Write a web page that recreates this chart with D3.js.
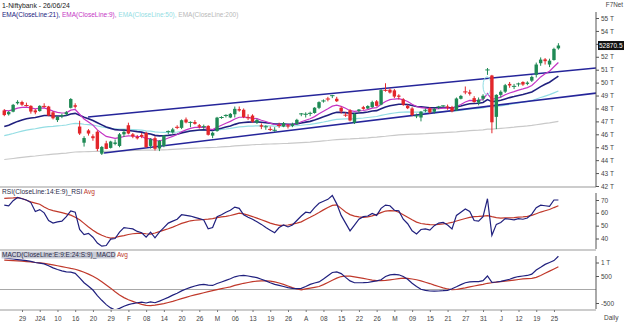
<!DOCTYPE html>
<html><head><meta charset="utf-8">
<script src="https://cdn.jsdelivr.net/npm/d3@7"></script>
<style>
body{margin:0;background:#fff}
svg{display:block}
text{font-family:"Liberation Sans",Arial,sans-serif}
</style>
</head><body>
<svg id="chart" width="624" height="323"></svg>
<script>
// Daily Nifty Bank candles, 22 Dec 2023 .. 26 Jun 2024 (values in thousands)
const open  = [47.85,47.55,47.75,48.40,48.50,48.30,48.20,47.85,47.80,48.20,48.15,47.70,47.10,47.40,47.55,48.05,48.25,46.60,45.35,46.30,45.85,46.20,44.50,45.30,44.95,45.25,45.10,46.00,46.70,46.00,45.80,45.95,46.10,45.10,45.70,44.90,45.10,46.15,46.15,46.55,46.50,47.15,46.85,46.95,46.70,46.55,46.65,45.90,46.25,47.25,47.40,47.30,47.55,47.95,47.90,47.35,47.45,46.90,46.70,46.55,46.40,46.30,46.70,46.60,46.70,46.65,46.80,47.50,47.55,47.55,47.65,48.05,48.55,48.75,48.95,48.75,48.05,47.55,47.85,46.90,47.80,48.10,48.00,48.10,48.55,48.30,49.45,49.45,49.40,49.00,48.70,48.20,48.00,47.40,47.30,47.85,48.00,47.75,48.05,48.15,48.15,48.10,47.85,48.75,49.30,49.25,48.80,48.45,48.75,50.90,50.55,47.35,49.05,49.30,49.90,49.70,49.85,50.05,49.90,50.15,50.60,51.50,51.80,51.40,51.75,52.65];
const high  = [47.95,47.80,48.35,48.64,48.60,48.45,48.25,47.95,48.25,48.40,48.20,47.80,47.40,47.60,47.80,48.80,48.40,47.05,45.85,46.40,46.00,46.30,45.10,45.50,45.50,45.60,46.10,46.40,46.90,46.10,45.95,46.10,46.20,45.70,45.85,45.55,45.95,46.30,46.50,46.70,47.15,47.30,47.00,47.10,46.80,46.75,46.70,46.20,47.35,47.40,47.55,47.65,48.15,48.15,48.00,47.55,47.55,47.20,46.85,46.70,46.60,46.55,46.90,46.95,46.80,46.90,47.20,47.65,47.70,47.75,48.10,48.55,48.70,48.90,49.05,48.90,48.15,47.70,47.95,47.65,47.95,48.20,48.25,48.60,48.65,49.50,49.95,49.55,49.50,49.10,48.80,48.30,48.10,47.60,47.80,48.00,48.10,48.05,48.20,48.25,48.30,48.20,48.85,49.05,49.70,49.45,48.95,48.85,49.10,51.13,50.60,49.10,49.40,49.90,50.05,49.90,50.00,50.10,50.10,50.55,51.55,51.95,51.90,51.85,52.70,53.05];
const low   = [47.40,47.45,47.70,48.30,48.20,48.15,47.60,47.55,47.75,48.05,47.40,47.15,46.95,47.25,47.45,48.00,48.00,45.95,45.05,45.90,45.50,44.70,44.40,44.85,44.90,45.15,45.00,45.80,46.00,45.70,45.60,45.70,44.95,44.90,44.75,44.70,45.00,46.00,46.05,46.40,46.40,46.85,46.55,46.75,46.45,46.40,45.90,45.70,46.20,47.20,47.30,47.25,47.30,47.75,47.25,47.10,46.90,46.80,46.40,46.35,46.25,46.20,46.50,46.55,46.45,46.55,46.75,47.40,47.30,47.40,47.60,47.95,48.45,48.55,48.80,48.50,47.60,47.35,47.00,46.80,47.70,47.90,47.95,48.05,48.15,48.25,49.30,49.15,48.80,48.70,48.20,47.95,47.40,47.25,47.00,47.70,47.60,47.60,47.95,48.10,47.90,47.70,47.80,48.70,49.10,49.00,48.45,48.25,48.60,50.60,46.08,46.40,48.85,49.20,49.60,49.50,49.70,49.75,49.80,50.05,50.40,51.30,51.40,51.20,51.70,52.55];
const close = [47.49,47.72,48.28,48.51,48.29,48.23,47.76,47.70,48.20,48.16,47.45,47.24,47.36,47.44,47.71,48.73,48.13,46.06,45.71,46.06,45.70,44.87,45.02,44.87,45.44,45.37,46.00,46.19,46.06,45.83,45.69,45.82,45.01,45.63,44.88,45.50,45.91,46.22,46.38,46.54,47.09,46.92,46.92,46.81,46.58,46.59,45.96,46.12,47.29,47.30,47.46,47.58,47.97,47.84,47.33,47.28,46.98,47.11,46.59,46.58,46.38,46.31,46.68,46.86,46.60,46.79,47.12,47.58,47.55,47.62,48.06,48.49,48.58,48.73,48.99,48.56,47.77,47.48,47.07,47.57,47.92,47.97,48.19,48.49,48.20,49.42,49.40,49.23,48.92,48.90,48.29,48.02,47.49,47.42,47.75,47.86,47.69,47.98,48.12,48.20,48.05,47.78,48.77,48.97,49.28,49.14,48.50,48.68,48.98,50.98,46.93,49.05,49.29,49.80,49.78,49.71,49.90,49.85,50.00,50.44,51.40,51.78,51.66,51.70,52.61,52.87];
const lastClose = 52870.5;

// Moving averages of the close
const ema9   = [47.85,47.82,47.91,48.03,48.08,48.11,48.04,47.97,48.02,48.05,47.93,47.79,47.70,47.65,47.66,47.87,47.92,47.55,47.18,46.96,46.71,46.34,46.08,45.84,45.76,45.68,45.74,45.83,45.88,45.87,45.83,45.83,45.67,45.66,45.50,45.50,45.58,45.71,45.84,45.98,46.20,46.34,46.46,46.53,46.54,46.55,46.43,46.37,46.55,46.70,46.85,47.00,47.19,47.32,47.32,47.31,47.24,47.21,47.09,46.99,46.87,46.76,46.74,46.76,46.73,46.74,46.82,46.97,47.09,47.20,47.37,47.59,47.79,47.98,48.18,48.26,48.16,48.02,47.83,47.78,47.81,47.84,47.91,48.03,48.06,48.33,48.54,48.68,48.73,48.76,48.67,48.54,48.33,48.15,48.07,48.03,47.96,47.96,47.99,48.03,48.03,47.98,48.14,48.31,48.50,48.63,48.60,48.62,48.69,49.15,48.71,48.78,48.88,49.06,49.20,49.30,49.42,49.51,49.61,49.78,50.10,50.44,50.68,50.88,51.23,51.56];
const ema21  = [46.60,46.70,46.85,47.00,47.11,47.21,47.26,47.30,47.38,47.45,47.45,47.43,47.42,47.42,47.45,47.57,47.62,47.48,47.32,47.21,47.07,46.90,46.73,46.56,46.46,46.36,46.33,46.32,46.30,46.26,46.21,46.17,46.07,46.03,45.92,45.88,45.89,45.92,45.96,46.01,46.11,46.18,46.25,46.30,46.33,46.35,46.32,46.30,46.39,46.47,46.56,46.65,46.77,46.87,46.91,46.94,46.95,46.96,46.93,46.90,46.85,46.80,46.79,46.80,46.78,46.78,46.81,46.88,46.94,47.00,47.10,47.23,47.35,47.48,47.61,47.70,47.70,47.68,47.63,47.62,47.65,47.68,47.73,47.80,47.83,47.98,48.11,48.21,48.27,48.33,48.33,48.30,48.23,48.15,48.12,48.09,48.06,48.05,48.06,48.07,48.07,48.04,48.11,48.19,48.29,48.36,48.38,48.40,48.46,48.69,48.53,48.57,48.64,48.74,48.84,48.92,49.01,49.08,49.17,49.28,49.48,49.69,49.87,50.03,50.27,50.50];
const ema50  = [45.90,45.97,46.06,46.16,46.24,46.32,46.38,46.43,46.50,46.56,46.60,46.62,46.65,46.68,46.72,46.80,46.85,46.82,46.78,46.75,46.71,46.64,46.57,46.51,46.46,46.42,46.40,46.40,46.38,46.36,46.34,46.32,46.27,46.24,46.19,46.16,46.15,46.15,46.16,46.18,46.21,46.24,46.27,46.29,46.30,46.31,46.30,46.29,46.33,46.37,46.41,46.46,46.52,46.57,46.60,46.63,46.64,46.66,46.66,46.66,46.65,46.63,46.63,46.64,46.64,46.65,46.67,46.70,46.74,46.77,46.82,46.89,46.95,47.02,47.10,47.16,47.18,47.19,47.19,47.20,47.23,47.26,47.30,47.34,47.38,47.46,47.53,47.60,47.65,47.70,47.72,47.73,47.72,47.71,47.71,47.72,47.72,47.73,47.74,47.76,47.77,47.77,47.81,47.86,47.91,47.96,47.98,48.01,48.05,48.16,48.11,48.15,48.19,48.26,48.32,48.37,48.43,48.49,48.55,48.62,48.73,48.85,48.96,49.07,49.21,49.35];
const ema200 = [44.05,44.09,44.13,44.17,44.21,44.25,44.29,44.32,44.36,44.40,44.43,44.46,44.49,44.52,44.55,44.59,44.63,44.64,44.65,44.66,44.67,44.68,44.68,44.68,44.69,44.70,44.71,44.72,44.74,44.75,44.76,44.77,44.77,44.78,44.78,44.79,44.80,44.81,44.83,44.85,44.87,44.89,44.91,44.93,44.94,44.96,44.97,44.98,45.00,45.03,45.05,45.07,45.10,45.13,45.15,45.17,45.19,45.21,45.22,45.24,45.25,45.26,45.27,45.29,45.30,45.32,45.34,45.36,45.38,45.40,45.43,45.46,45.49,45.52,45.56,45.59,45.61,45.63,45.64,45.66,45.68,45.71,45.73,45.76,45.78,45.82,45.85,45.89,45.92,45.95,45.97,45.99,46.01,46.02,46.04,46.05,46.07,46.09,46.11,46.13,46.15,46.17,46.19,46.22,46.25,46.28,46.30,46.32,46.35,46.40,46.40,46.43,46.46,46.49,46.52,46.55,46.59,46.62,46.65,46.69,46.74,46.79,46.84,46.88,46.94,47.00];

// Trend channel drawn on the price panel: [candle index, price]
const channelUpper = [[18.9,47.34],[133.5,51.13]];
const channelLower = [[22.5,44.55],[133.5,49.19]];
// Circled area around the 3-4 June swing: candle index, half width in candles, price range
const ringIdx = 108.9, ringHalf = 0.9, ringLow = 49.05, ringHigh = 50.45;

// RSI(14) and its 9-period average
const rsi    = [66,65.5,69.5,72,71,70,68,61,62.5,60,54,52,53,53.5,57,61.5,60.5,47,43,44,41,36.5,34,34.5,39.5,40,45,48.5,48,47.5,45.5,44.5,41,45,40.5,45,48.5,52,53.5,55,58.5,58,57.5,56.5,55.5,54.5,47.5,48.5,57,58.5,60.5,62,64.5,63.5,58.5,56.5,55,53,51,48.5,46.5,44.5,48.5,50.5,49,50.5,54,57.5,60.5,60,64,67.5,69,70.5,73.5,67,58,52,46,50.5,55,57,57.5,59.5,58,63.5,66,65.5,62,61.5,55,51.5,46,43.5,47,47.5,46.5,50,52,52.5,50.5,47.5,58,60.5,63,61,54,53.5,57,71,42.5,51,52.5,55.5,55,54.5,55.5,55,56,59,64,66,65.5,65,70,70];
const rsiAvg = [71.3,71.5,71.6,71.8,71.2,69.8,68.5,67.6,66.7,64.5,62.8,61.7,61,60.1,59.2,58.2,56.5,54.6,51.8,49,46.5,44.2,42.5,41.2,40.3,40.8,41.6,42.3,43.1,43.7,44,44.1,43.7,43.4,44.3,45.4,46.5,47.6,48.9,50.3,51.8,52.8,53.8,54.2,54.5,54.8,55.1,55.5,56.2,56.8,57.3,57.9,58.8,59.7,59.2,58.2,57.1,55.9,54.6,53.3,52,51,50.2,50.2,50.5,51.2,52,53,54.8,56.5,58.3,60.2,62.3,64.1,65.8,66.2,63.5,60.6,58.6,57.4,56.8,56.4,56.9,57.6,58.8,60.2,61.4,61.7,61.6,60.5,58.5,56.6,54.6,52.8,51.7,51.2,50.8,50.7,51,51.4,51.9,52.5,53.6,54.6,55.6,56.4,57,57.2,57.5,57.8,57,56.3,55.9,56,56.1,56.3,56.6,56.9,57.3,58,59.3,60.6,61.6,62.6,64.1,65.5];

// MACD(9,24) and signal line
const macd    = [1170,1150,1130,1110,1090,1070,1040,1000,980,950,880,800,740,690,650,640,600,430,250,120,-20,-230,-400,-560,-680,-760,-700,-620,-560,-520,-490,-470,-500,-460,-490,-430,-360,-290,-210,-140,-50,20,80,130,170,190,160,150,220,280,340,400,470,510,520,500,470,440,380,320,250,190,150,110,70,40,30,40,110,190,240,280,390,510,630,650,590,450,320,250,250,252,260,289,320,360,480,540,560,545,480,380,230,110,10,-30,-56,-60,-56,-45,-30,30,100,180,250,285,295,290,330,500,267,278,300,340,380,440,480,500,520,570,720,820,930,1000,1070,1230];
const macdAvg = [1090,1080,1070,1060,1050,1035,1020,1000,985,965,940,910,880,850,815,780,750,700,640,570,490,400,290,170,50,-80,-200,-300,-380,-440,-500,-550,-590,-600,-580,-550,-520,-480,-440,-390,-340,-290,-240,-200,-160,-120,-80,-40,-5,30,65,100,150,190,230,260,290,310,320,320,310,280,240,190,130,70,20,-10,20,50,80,110,180,260,340,420,480,500,495,470,440,410,380,350,330,330,340,360,380,400,420,410,390,360,320,270,220,160,110,60,20,-10,0,30,60,100,130,160,190,230,250,270,290,310,330,350,370,390,400,410,450,520,600,680,760,840];

// Date axis: a label every fourth session
const dateTickIdx = [4,8,12,16,20,24,28,32,36,40,44,48,52,56,60,64,68,72,76,80,84,88,92,96,100,104,108,112,116,120,124];
const dateTickLabels = ["29","J24","10","16","20","29","F","08","14","20","26","M","06","13","19","26","A","08","15","22","26","M","09","15","21","27","31","J","12","19","25"];

// price labels (53 sits under the last-value tag)
const priceTicks = [42,43,44,45,46,47,48,49,50,51,52,53,54,55];
const priceLabelHidden = [53];
const rsiTicks = [40,50,60,70];
const macdTicks = [-500,500,1000];

const axisX = 596;
const svg = d3.select("#chart");

const x = d3.scaleLinear().domain([0, close.length - 1]).range([4.27, 558.4]);
const yP = d3.scaleLinear().domain([42, 55]).range([186, 18]);
const yR = d3.scaleLinear().domain([40, 70]).range([238.5, 200]);
const yM = d3.scaleLinear().domain([-500, 1000]).range([303, 262.5]);

const navy = "#20207e", magenta = "#c535c5", cyan = "#93dde3", grey = "#c9c9c9";
const up = "#1f8a55", down = "#e3262b", avgRed = "#c0392b";
const fontFam = "Liberation Sans, Arial, sans-serif";

// clip paths for the three panels
const defs = svg.append("defs");
[["clipP",0,8,axisX,179],["clipR",0,188,axisX,61],["clipM",0,251,axisX,58]].forEach(([id,cx,cy,cw,ch]) => {
  defs.append("clipPath").attr("id", id).append("rect").attr("x",cx).attr("y",cy).attr("width",cw).attr("height",ch);
});

// panel separators
[187, 250, 310].forEach(yy => svg.append("line").attr("x1",0).attr("x2",axisX).attr("y1",yy).attr("y2",yy)
  .attr("stroke","#9a9a9a").attr("stroke-width",1.2));
svg.append("line").attr("x1",0).attr("x2",axisX).attr("y1",yM(0)).attr("y2",yM(0)).attr("stroke","#a8a8a8").attr("stroke-width",1);

// ---------- price panel ----------
const gP = svg.append("g").attr("clip-path","url(#clipP)");
const lineP = arr => d3.line().x((d,i)=>x(i)).y(d=>yP(d))(arr);
gP.append("path").attr("d", lineP(ema200)).attr("fill","none").attr("stroke",grey).attr("stroke-width",1.2);
gP.append("path").attr("d", lineP(ema50)).attr("fill","none").attr("stroke",cyan).attr("stroke-width",1.2);

const chan = d3.line().x(d=>x(d[0])).y(d=>yP(d[1]));
[channelUpper, channelLower].forEach(c => gP.append("path").attr("d", chan(c)).attr("fill","none")
  .attr("stroke","#25259a").attr("stroke-width",1.6));

gP.append("path").attr("d", lineP(ema21)).attr("fill","none").attr("stroke",navy).attr("stroke-width",1.6);
gP.append("path").attr("d", lineP(ema9)).attr("fill","none").attr("stroke",magenta).attr("stroke-width",1.2);

gP.append("ellipse").attr("cx", x(ringIdx))
  .attr("cy", (yP(ringLow)+yP(ringHigh))/2)
  .attr("rx", x(ringIdx+ringHalf)-x(ringIdx))
  .attr("ry", (yP(ringLow)-yP(ringHigh))/2)
  .attr("fill","none").attr("stroke","#8fdde4").attr("stroke-width",1);

// candles
const bodyW = 3.4;
const cg = gP.append("g");
close.forEach((c, i) => {
  const o = open[i], col = c >= o ? up : down;
  const g = cg.append("g");
  g.append("line").attr("x1",x(i)).attr("x2",x(i)).attr("y1",yP(high[i])).attr("y2",yP(low[i]))
    .attr("stroke",col).attr("stroke-width",1);
  const top = yP(Math.max(o,c)), h = Math.abs(yP(o)-yP(c));
  if (h < 1.2) {
    g.append("line").attr("x1",x(i)-2.2).attr("x2",x(i)+2.2).attr("y1",yP(c)).attr("y2",yP(c))
      .attr("stroke",col).attr("stroke-width",1);
  } else {
    g.append("rect").attr("x",x(i)-bodyW/2).attr("y",top).attr("width",bodyW).attr("height",h).attr("fill",col);
  }
});

// price axis
svg.append("line").attr("x1",axisX).attr("x2",axisX).attr("y1",12).attr("y2",187).attr("stroke","#555");
const axP = svg.append("g").attr("transform",`translate(${axisX},0)`)
  .call(d3.axisRight(yP).tickValues(priceTicks).tickSize(3)
    .tickFormat(d => priceLabelHidden.includes(d) ? "" : `${d} T`));
axP.select(".domain").remove();
axP.selectAll("text").attr("font-size",6.5).attr("fill","#444").attr("x",5).attr("font-family",fontFam);
axP.selectAll("line").attr("stroke","#555");

// last value tag
const lastY = yP(lastClose/1000);
svg.append("rect").attr("x",598).attr("y",lastY-4.5).attr("width",26).attr("height",9).attr("fill","#111");
svg.append("text").attr("x",599).attr("y",lastY+2.3).attr("fill","#fff").attr("font-size",6.5).text(lastClose.toFixed(1));
svg.append("text").attr("x",623).attr("y",7).attr("text-anchor","end").attr("font-size",6.3).attr("fill","#444").text("F7Net");

// header and legends
svg.append("text").attr("x",2).attr("y",7.5).attr("font-size",6.9).attr("fill","#222").text("1-Niftybank - 26/06/24");
const leg = svg.append("text").attr("x",2).attr("y",16.5).attr("font-size",6.5);
[["EMA(CloseLine:21), ",navy],["EMA(CloseLine:9), ",magenta],["EMA(CloseLine:50), ",cyan],["EMA(CloseLine:200)","#b8b8b8"]]
  .forEach(([t,c]) => leg.append("tspan").attr("fill",c).text(t));

// ---------- RSI panel ----------
const gR = svg.append("g").attr("clip-path","url(#clipR)");
const lineR = d3.line().x((d,i)=>x(i)).y(d=>yR(d));
gR.append("path").attr("d", lineR(rsiAvg)).attr("fill","none").attr("stroke",avgRed).attr("stroke-width",1.2);
gR.append("path").attr("d", lineR(rsi)).attr("fill","none").attr("stroke",navy).attr("stroke-width",1.2);
svg.append("line").attr("x1",axisX).attr("x2",axisX).attr("y1",193).attr("y2",249).attr("stroke","#555");
const axR = svg.append("g").attr("transform",`translate(${axisX},0)`)
  .call(d3.axisRight(yR).tickValues(rsiTicks).tickSize(3));
axR.select(".domain").remove();
axR.selectAll("text").attr("font-size",6.5).attr("fill","#444").attr("x",5).attr("font-family",fontFam);
axR.selectAll("line").attr("stroke","#555");
const rl = svg.append("text").attr("x",2).attr("y",193.5).attr("font-size",6.6);
rl.append("tspan").attr("fill","#2a2a4a").text("RSI(CloseLine:14:E:9)_RSI ");
rl.append("tspan").attr("fill",avgRed).text("Avg");

// ---------- MACD panel ----------
const gM = svg.append("g").attr("clip-path","url(#clipM)");
const lineM = d3.line().x((d,i)=>x(i)).y(d=>yM(d));
gM.append("path").attr("d", lineM(macdAvg)).attr("fill","none").attr("stroke",avgRed).attr("stroke-width",1.2);
gM.append("path").attr("d", lineM(macd)).attr("fill","none").attr("stroke",navy).attr("stroke-width",1.2);
svg.append("line").attr("x1",axisX).attr("x2",axisX).attr("y1",256).attr("y2",309).attr("stroke","#555");
const axM = svg.append("g").attr("transform",`translate(${axisX},0)`)
  .call(d3.axisRight(yM).tickValues(macdTicks).tickSize(3).tickFormat(d => d === 1000 ? "1 T" : d));
axM.select(".domain").remove();
axM.selectAll("text").attr("font-size",6.5).attr("fill","#444").attr("x",5).attr("font-family",fontFam);
axM.selectAll("line").attr("stroke","#555");
svg.append("rect").attr("x",1.5).attr("y",251.5).attr("width",114).attr("height",7).attr("fill","#c9ccd6");
const ml = svg.append("text").attr("x",2).attr("y",257).attr("font-size",6.5);
ml.append("tspan").attr("fill","#2a2a4a").text("MACD(CloseLine:E:9:E:24:S:9)_MACD ");
ml.append("tspan").attr("fill",avgRed).text("Avg");

// ---------- date axis ----------
const axD = svg.append("g").attr("transform","translate(0,310)")
  .call(d3.axisBottom(x).tickValues(dateTickIdx).tickSize(2).tickFormat((d,i)=>dateTickLabels[i]));
axD.select(".domain").remove();
axD.selectAll("line").attr("stroke","#777");
axD.selectAll("text").attr("font-size",6.5).attr("fill","#444").attr("dy","0.9em").attr("font-family",fontFam);
svg.append("text").attr("x",604).attr("y",320).attr("font-size",6.5).attr("fill","#444").text("Daily");
</script>
</body></html>
